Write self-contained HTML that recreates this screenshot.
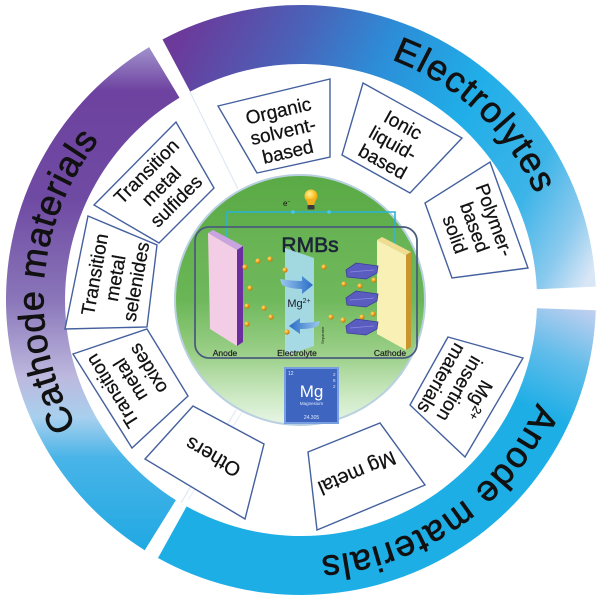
<!DOCTYPE html>
<html><head><meta charset="utf-8"><style>
html,body{margin:0;padding:0;background:#fff;}
svg{display:block;font-family:"Liberation Sans",Arial,sans-serif;}
</style></head><body>
<svg width="600" height="600" viewBox="0 0 600 600" xmlns="http://www.w3.org/2000/svg">
<defs>
<linearGradient id="gE" gradientUnits="userSpaceOnUse" x1="165" y1="70" x2="585" y2="285">
<stop offset="0" stop-color="#6b3a9b"/><stop offset="0.22" stop-color="#4a62b8"/><stop offset="0.4" stop-color="#2c8ed8"/><stop offset="0.6" stop-color="#20aee8"/><stop offset="0.8" stop-color="#3cb4e8"/><stop offset="0.92" stop-color="#8ccaee"/><stop offset="1" stop-color="#d8e6f6"/>
</linearGradient>
<linearGradient id="gA" gradientUnits="userSpaceOnUse" x1="585" y1="305" x2="535" y2="410">
<stop offset="0" stop-color="#c4d0f0"/><stop offset="0.5" stop-color="#62bdea"/><stop offset="1" stop-color="#1daee6"/>
</linearGradient>
<linearGradient id="gC" gradientUnits="userSpaceOnUse" x1="0" y1="45" x2="0" y2="555">
<stop offset="0" stop-color="#a496cf"/><stop offset="0.09" stop-color="#6e42a0"/><stop offset="0.3" stop-color="#6f4aa3"/><stop offset="0.5" stop-color="#8a76b9"/><stop offset="0.65" stop-color="#bdb8de"/><stop offset="0.73" stop-color="#a8d0ee"/><stop offset="0.81" stop-color="#48b4e8"/><stop offset="1" stop-color="#1ea8e2"/>
</linearGradient>
<linearGradient id="gG" x1="0" y1="0" x2="0" y2="1">
<stop offset="0" stop-color="#5aaa46"/><stop offset="0.5" stop-color="#6ab656"/><stop offset="0.7" stop-color="#94cc80"/><stop offset="0.8" stop-color="#b4dca6"/><stop offset="0.9" stop-color="#d0ebc8"/><stop offset="1" stop-color="#e8f5e6"/>
</linearGradient>
<radialGradient id="dot" cx="0.35" cy="0.35" r="0.7"><stop offset="0" stop-color="#ffe58a"/><stop offset="0.5" stop-color="#f0a820"/><stop offset="1" stop-color="#b87010"/></radialGradient>
<radialGradient id="bulb" cx="0.4" cy="0.35" r="0.7"><stop offset="0" stop-color="#fff2a0"/><stop offset="0.6" stop-color="#f8c020"/><stop offset="1" stop-color="#e89a10"/></radialGradient>
<linearGradient id="arr" x1="0" y1="0" x2="1" y2="0"><stop offset="0" stop-color="#9cc8ee"/><stop offset="1" stop-color="#2a6cc6"/></linearGradient>
<linearGradient id="arr2" x1="1" y1="0" x2="0" y2="0"><stop offset="0" stop-color="#9cc8ee"/><stop offset="1" stop-color="#2a6cc6"/></linearGradient>
<path id="lab" d="M213.1,541.5 A257,257 0 1,1 388.9,58.5 A257,257 0 1,1 213.1,541.5"/>
</defs>

<rect width="600" height="600" fill="#fff"/>

<!-- outer ring segments -->
<path d="M162.5,39.5 A295,295 0 0,1 595.7,286.6 L536.8,289.3 A236,236 0 0,0 190.2,91.6 Z" fill="url(#gE)"/>
<path d="M595.8,310.3 A295,295 0 0,1 158.0,558.0 L186.6,506.4 A236,236 0 0,0 536.9,308.2 Z" fill="url(#gA)"/>
<path d="M144.7,550.2 A295,295 0 0,1 149.1,47.1 L179.5,97.7 A236,236 0 0,0 175.9,500.1 Z" fill="url(#gC)"/>

<!-- band labels -->
<g font-size="36" fill="#111" stroke="#111" stroke-width="0.7">
<text letter-spacing="0.75"><textPath href="#lab" startOffset="335" text-anchor="middle">Cathode materials</textPath></text>
<text letter-spacing="1.45"><textPath href="#lab" startOffset="912.8" text-anchor="middle">Electrolytes</textPath></text>
<text letter-spacing="1.3"><textPath href="#lab" startOffset="1368" text-anchor="middle">Anode materials</textPath></text>
</g>

<!-- faint gap lines -->
<line x1="190" y1="92" x2="238" y2="189" stroke="#dfe8f4" stroke-width="1.2"/>
<line x1="181" y1="503" x2="236" y2="410" stroke="#dfe8f4" stroke-width="1.2"/>
<line x1="188" y1="500" x2="242" y2="412" stroke="#e6eef8" stroke-width="1"/>

<!-- boxes -->
<g fill="#fff" stroke="#44609e" stroke-width="1.4">
<polygon points="218,106 330,79 330,157 257,173"/>
<polygon points="363,83 462,138 410,193 342,155"/>
<polygon points="490,162 528,268 452,278 425,203"/>
<polygon points="448,337 523,358 465,457 410,405"/>
<polygon points="308,452 380,423 425,485 317,530"/>
<polygon points="193,406 264,444 245,519 145,459"/>
<polygon points="73,354 147,329 188,396 132,448"/>
<polygon points="88,216 157,245 147,327 65,329"/>
<polygon points="94,205 176,122 214,188 159,243"/>
</g>

<g font-size="19" fill="#111" stroke="#111" stroke-width="0.25" text-anchor="middle">
<text transform="translate(283,131) rotate(-13)"><tspan x="0" y="-14.2">Organic</tspan><tspan x="0" y="6.8">solvent-</tspan><tspan x="0" y="27.8">based</tspan></text>
<text transform="translate(393,143) rotate(29)"><tspan x="0" y="-14.2">Ionic</tspan><tspan x="0" y="6.8">liquid-</tspan><tspan x="0" y="27.8">based</tspan></text>
<text transform="translate(475,227) rotate(70)"><tspan x="0" y="-14.2">Polymer-</tspan><tspan x="0" y="6.8">based</tspan><tspan x="0" y="27.8">solid</tspan></text>
<text transform="translate(460,389) rotate(120)"><tspan x="0" y="-14.2">Mg<tspan font-size="12" dy="-7">2+</tspan></tspan><tspan x="0" y="6.8">insertion</tspan><tspan x="0" y="27.8">materials</tspan></text>
<text transform="translate(357,473) rotate(157)" font-size="20"><tspan x="0" y="6.8">Mg metal</tspan></text>
<text transform="translate(213,457) rotate(-150)" font-size="20"><tspan x="0" y="6.8">Others</tspan></text>
<text transform="translate(130,380) rotate(-122)"><tspan x="0" y="-14.2">Transition</tspan><tspan x="0" y="6.8">metal</tspan><tspan x="0" y="27.8">oxides</tspan></text>
<text transform="translate(115,278) rotate(-80)"><tspan x="0" y="-14.2">Transition</tspan><tspan x="0" y="6.8">metal</tspan><tspan x="0" y="27.8">selenides</tspan></text>
<text transform="translate(161,186) rotate(-45)"><tspan x="0" y="-14.2">Transition</tspan><tspan x="0" y="6.8">metal</tspan><tspan x="0" y="27.8">sulfides</tspan></text>
</g>

<!-- center circle -->
<circle cx="300" cy="300" r="125" fill="url(#gG)" stroke="#b9d0e0" stroke-width="2"/>

<!-- wire and bulb -->
<polyline points="227,243 227,212 395,212 395,244" fill="none" stroke="#2ab4d4" stroke-width="1.6"/>
<circle cx="293" cy="212" r="1.8" fill="#49c6ea"/>
<circle cx="329" cy="212" r="1.8" fill="#49c6ea"/>
<circle cx="311" cy="196" r="6.5" fill="url(#bulb)"/>
<path d="M306,199 L316,199 L314,205 L308,205 Z" fill="#f0b020"/>
<rect x="307.5" y="205" width="7" height="4.5" rx="1" fill="#3a3a3a"/>
<text x="283" y="206" font-size="8" fill="#111">e<tspan font-size="5" dy="-3">−</tspan></text>

<!-- battery box -->
<rect x="195" y="227" width="222" height="131" rx="14" fill="rgba(255,255,255,0.04)" stroke="#4b5d7c" stroke-width="1.8"/>
<text x="310" y="252" font-size="21" fill="#1c2438" stroke="#1c2438" stroke-width="0.6" text-anchor="middle">RMBs</text>

<!-- anode plate -->
<polygon points="208,233 213,230 243,246 237,250" fill="#c9a4e0"/>
<polygon points="208,233 237,250 237,346 210,329" fill="#f3cde6"/>
<polygon points="237,250 243,246 243,342 237,346" fill="#6b2e9e"/>

<!-- separator -->
<polygon points="285,248 314,258 314,346 285,356" fill="#a8dcf0" opacity="0.9"/>

<!-- cathode plate -->
<polygon points="377,240 382,237 411,252 406,255" fill="#f0dc90"/>
<polygon points="377,240 406,255 406,350 377,334" fill="#f8f0b4"/>
<polygon points="406,255 411,252 411,347 406,350" fill="#c8962c"/>

<!-- purple layered stacks -->
<g fill="#5b5cc0" stroke="#3d3e98" stroke-width="0.8">
<polygon points="346,270 356,263 378,266 377,273 366,279 347,277"/>
<polygon points="346,298 356,291 378,294 377,301 366,307 347,305"/>
<polygon points="346,326 356,319 378,322 377,329 366,335 347,333"/>
</g>
<g stroke="#8a8be0" stroke-width="0.7" fill="none">
<path d="M350,272 L374,270 M350,300 L374,298 M350,328 L374,326"/>
</g>

<!-- arrows -->
<path d="M280,279 Q292,281 302,281 L302,276 L313,285 L302,294 L302,289 Q290,289 282,285 Z" fill="url(#arr)"/>
<path d="M320,321 Q310,323 300,323 L300,318 L289,326 L300,334 L300,329 Q312,329 318,326 Z" fill="url(#arr2)"/>
<text x="299" y="307" font-size="11" fill="#1a1a2a" text-anchor="middle">Mg<tspan font-size="7" dy="-4">2+</tspan></text>
<text transform="translate(324,344) rotate(-90)" font-size="4" fill="#222">Separator</text>

<!-- dots -->
<g fill="url(#dot)">
<circle cx="245" cy="267" r="2.6"/><circle cx="258" cy="261" r="2.6"/><circle cx="270" cy="259" r="2.6"/>
<circle cx="285" cy="270" r="2.6"/><circle cx="250" cy="288" r="2.6"/><circle cx="247" cy="306" r="2.6"/>
<circle cx="264" cy="308" r="2.6"/><circle cx="271" cy="317" r="2.6"/><circle cx="247" cy="324" r="2.6"/>
<circle cx="287" cy="332" r="2.6"/><circle cx="324" cy="267" r="2.6"/><circle cx="344" cy="284" r="2.6"/>
<circle cx="360" cy="286" r="2.6"/><circle cx="374" cy="280" r="2.6"/><circle cx="331" cy="317" r="2.6"/>
<circle cx="343" cy="320" r="2.6"/><circle cx="362" cy="317" r="2.6"/><circle cx="373" cy="314" r="2.6"/>
</g>

<!-- labels -->
<g font-size="8.5" fill="#222" stroke="#222" stroke-width="0.2" text-anchor="middle">
<text x="225" y="356">Anode</text>
<text x="297" y="356">Electrolyte</text>
<text x="390" y="356">Cathode</text>
</g>

<!-- Mg tile -->
<rect x="285" y="368" width="53" height="55" fill="#3e65bf" stroke="#78a0e0" stroke-width="2"/>
<text x="311.5" y="397" font-size="17" fill="#fff" text-anchor="middle">Mg</text>
<text x="311.5" y="405" font-size="4.5" fill="#dfe8ff" text-anchor="middle">Magnesium</text>
<text x="311.5" y="419" font-size="5" fill="#dfe8ff" text-anchor="middle">24.305</text>
<text x="288" y="375" font-size="5" fill="#dfe8ff">12</text>
<text x="333" y="376" font-size="4.5" fill="#dfe8ff">2</text>
<text x="333" y="382" font-size="4.5" fill="#dfe8ff">8</text>
<text x="333" y="388" font-size="4.5" fill="#dfe8ff">2</text>
</svg>
</body></html>
